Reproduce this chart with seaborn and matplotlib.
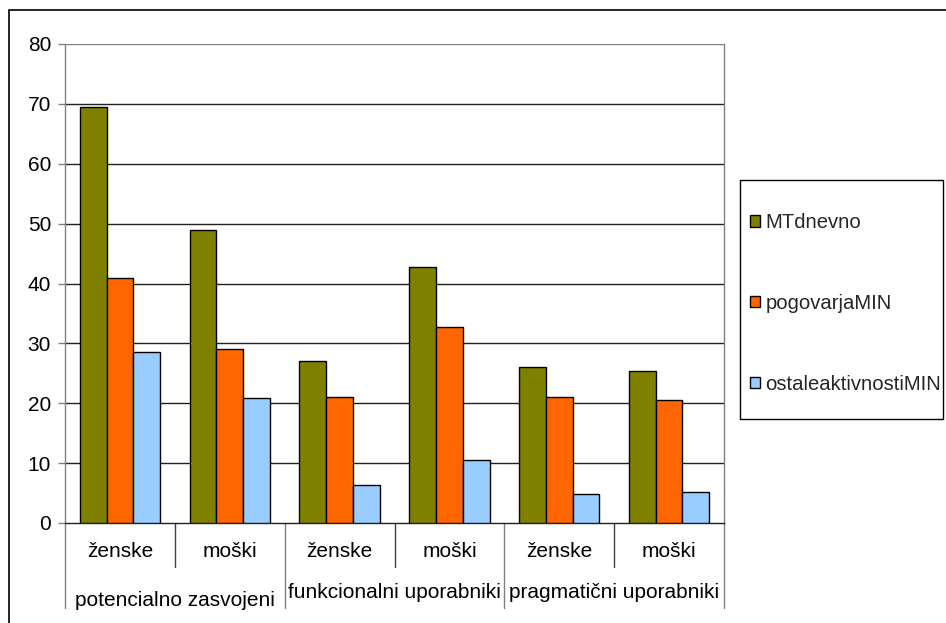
import matplotlib
matplotlib.use("Agg")
import matplotlib.pyplot as plt
from matplotlib.patches import Rectangle
import seaborn as sns
import pandas as pd

# Chart data
groups = ["potencialno zasvojeni", "funkcionalni uporabniki", "pragmatični uporabniki"]
genders = ["ženske", "moški"]
series = ["MTdnevno", "pogovarjaMIN", "ostaleaktivnostiMIN"]
mt_dnevno = [69.4, 49.0, 27.1, 42.8, 26.1, 25.4]
pogovarja_min = [41.0, 29.1, 21.1, 32.7, 21.1, 20.5]
ostale_min = [28.6, 20.9, 6.4, 10.5, 4.9, 5.2]
y_ticks = [0, 10, 20, 30, 40, 50, 60, 70, 80]
colors = ["#808000", "#FF6600", "#99CCFF"]

categories = [f"{g}|{s}" for g in groups for s in genders]
rows = []
for name, vals in zip(series, [mt_dnevno, pogovarja_min, ostale_min]):
    for cat, v in zip(categories, vals):
        rows.append({"kategorija": cat, "serija": name, "vrednost": v})
df = pd.DataFrame(rows)

sns.set_theme(style="white")
plt.rcParams["font.family"] = ["Liberation Sans", "DejaVu Sans"]
FS = 15
LEG_FS = 14.6

fig = plt.figure(figsize=(9.46, 6.23), dpi=100)
ax = fig.add_axes([65 / 946, 1 - 523 / 623, (724 - 65) / 946, (523 - 44) / 623])

sns.barplot(data=df, x="kategorija", y="vrednost", hue="serija",
            order=categories, hue_order=series, palette=colors,
            width=0.73, edgecolor="black", linewidth=1.0, saturation=1,
            ax=ax, errorbar=None, zorder=3)

ax.set_xlim(-0.5, len(categories) - 0.5)
ax.set_ylim(0, 80)
ax.set_yticks(y_ticks)
ax.set_yticklabels([str(t) for t in y_ticks], fontsize=FS, color="black")
ax.tick_params(axis="y", length=5, width=1, color="#808080", left=True, pad=5)
ax.set_xticks([])
ax.set_xlabel("")
ax.set_ylabel("")

for t in y_ticks[1:]:
    ax.axhline(t, color="#808080" if t == 80 else "#202020", lw=1.0, zorder=1)

ax.spines["top"].set_visible(False)
ax.spines["left"].set_color("#808080")
ax.spines["right"].set_color("#808080")
ax.spines["bottom"].set_color("#202020")
for s in ax.spines.values():
    s.set_linewidth(1.0)

# Two-level category axis
trans = ax.get_xaxis_transform()
for i, cat in enumerate(categories):
    ax.text(i, -0.0605, cat.split("|")[1], transform=trans, ha="center",
            va="center", fontsize=FS, color="black")
for b in [0.5, 2.5, 4.5]:
    ax.plot([b, b], [0, -0.092], transform=trans, color="#404040", lw=1.0, clip_on=False)
for b in [-0.5, 1.5, 3.5, 5.5]:
    ax.plot([b, b], [0, -0.177], transform=trans, color="#808080", lw=1.0, clip_on=False)
for gi, g in enumerate(groups):
    yy = -0.161 if gi == 0 else -0.146
    ax.text(gi * 2 + 0.5, yy, g, transform=trans, ha="center", va="center",
            fontsize=FS, color="black")

# Legend entries, with a separate box around them
leg = ax.legend(loc="upper left", bbox_to_anchor=(750 / 946, 1 - 213 / 623),
                bbox_transform=fig.transFigure, frameon=False,
                fontsize=LEG_FS, handlelength=0.5, handleheight=0.5,
                handletextpad=0.25, labelspacing=3.05, borderpad=0,
                borderaxespad=0, title=None)
for h in leg.legend_handles:
    h.set_edgecolor("black")
    h.set_linewidth(1.0)
fig.patches.append(Rectangle((740 / 946, 1 - 419 / 623), (943 - 740) / 946,
                             (419 - 180) / 623, transform=fig.transFigure,
                             fill=False, edgecolor="black", lw=1.0))

# Outer chart frame
fig.patches.append(Rectangle((9 / 946, -0.05), 1.1, 1 - 10 / 623 + 0.05,
                             transform=fig.transFigure, fill=False,
                             edgecolor="black", lw=1.2, clip_on=False))

fig.savefig("out.png", dpi=100, facecolor="white")
